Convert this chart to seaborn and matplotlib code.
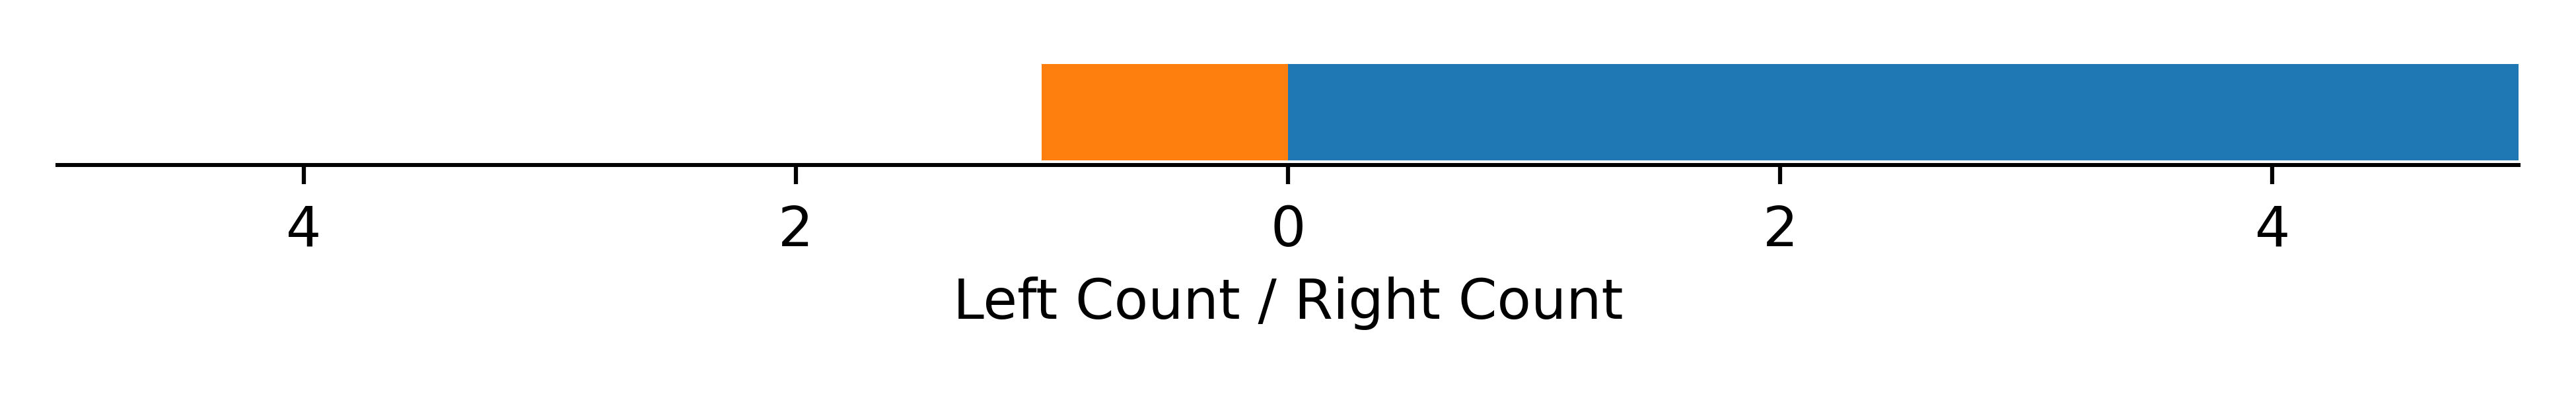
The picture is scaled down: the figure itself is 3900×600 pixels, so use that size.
import matplotlib
matplotlib.use("Agg")
import matplotlib.pyplot as plt
import seaborn as sns
import pandas as pd

# Данные
categories = [""]
left_counts = [1]
right_counts = [5]
tick_values = [-4, -2, 0, 2, 4]

sns.set_style("white")
plt.rcParams['font.family'] = ['DejaVu Sans']
plt.rcParams['text.color'] = 'black'
plt.rcParams['xtick.color'] = 'black'
plt.rcParams['axes.labelcolor'] = 'black'

fig = plt.figure(figsize=(13, 2), dpi=300)
ax = fig.add_axes([0.0223, 0.583, 0.9554, 0.267])

df = pd.DataFrame({
    "cat": categories * 2,
    "value": [-v for v in left_counts] + right_counts,
    "side": ["Left"] * len(left_counts) + ["Right"] * len(right_counts),
})

sns.barplot(data=df[df.side == "Right"], x="value", y="cat", orient="h",
            color="#1f77b4", saturation=1, width=0.8, linewidth=0, ax=ax)
sns.barplot(data=df[df.side == "Left"], x="value", y="cat", orient="h",
            color="#ff7f0e", saturation=1, width=0.8, linewidth=0, ax=ax)

ax.set_xlim(-5, 5)
ax.set_ylim(0.44, -0.44)
ax.set_xticks(tick_values)
ax.set_xticklabels([str(abs(t)) for t in tick_values])
ax.set_yticks([])
ax.set_ylabel("")
ax.set_xlabel("Left Count / Right Count", fontsize=20.2, labelpad=7)
ax.tick_params(axis="x", labelsize=20.2, length=7, width=1.5, direction="out",
               bottom=True, pad=7, colors="black")

for side in ["top", "right", "left"]:
    ax.spines[side].set_visible(False)
ax.spines["bottom"].set_linewidth(1.45)
ax.spines["bottom"].set_color("black")

fig.savefig("out.png", dpi=300, facecolor="white")
